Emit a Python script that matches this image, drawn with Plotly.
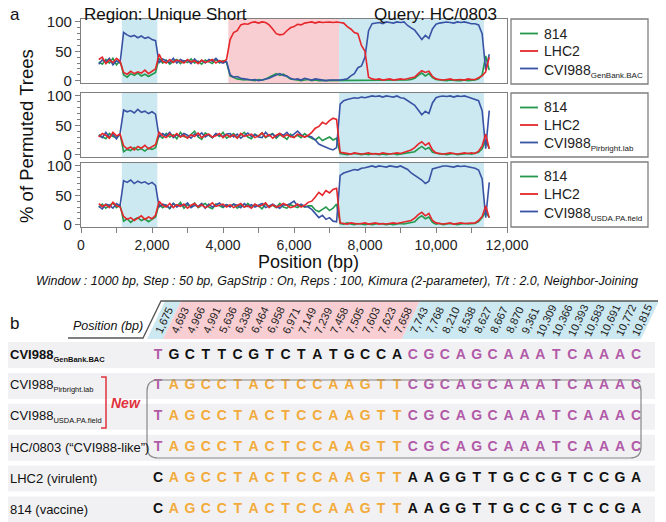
import plotly.graph_objects as go

# ---------------- panel a : bootscan, % of permuted trees (window midpoints, bp)
POS = list(range(500, 11501, 100))

# top panel: CVI988 GenBank.BAC as reference
G1 = [32, 28, 36, 30, 38, 27, 34,
      10, 6, 12, 9, 13, 8, 11, 7, 10, 14,
      38, 30, 35, 28, 33, 36, 29, 34, 31, 37, 30, 33, 28, 35, 32, 29, 36, 30, 34, 31,
      8, 5, 3, 2, 1, 2, 1, 0, 2, 1, 3, 6, 10, 12, 9, 11, 7, 3, 2, 1, 0, 1, 2, 0, 1, 0, 0, 1, 0, 0, 1,
      0, 0, 1, 0, 0, 0, 1, 0, 0, 0, 0, 0, 0, 0, 0, 1, 0, 0, 0, 1, 2,
      4, 9, 13, 8, 12, 5,
      2, 1, 0, 0, 1, 0, 0, 0, 1, 0, 0,
      1, 3, 10, 42,
      18]
R1 = [36, 40, 29, 35, 31, 38, 33,
      14, 11, 16, 12, 15, 13, 18, 12, 16, 20,
      45, 33, 30, 36, 31, 35, 33, 30, 36, 32, 34, 29, 35, 31, 33, 36, 30, 34, 32, 36,
      70, 82, 85, 95, 97, 96, 99, 100, 98, 100, 99, 95, 88, 80, 78, 79, 85, 90, 92, 96, 95, 98, 99, 100, 98, 100, 99, 100, 100, 99, 100,
      99, 98, 92, 88, 82, 80, 60, 50, 6, 3, 2, 3, 1, 2, 3, 1, 2, 3, 2, 3, 4,
      6, 12, 17, 14, 16, 7,
      3, 2, 1, 2, 3, 1, 2, 2, 1, 3, 2,
      2, 5, 8, 15,
      40]
B1 = [28, 35, 32, 38, 27, 34, 30,
      82, 78, 75, 77, 73, 76, 72, 74, 70, 68,
      30, 37, 34, 31, 38, 30, 36, 33, 35, 29, 37, 31, 34, 30, 36, 33, 38, 32, 30, 33,
      10, 6, 7, 4, 3, 2, 1, 2, 0, 1, 2, 4, 7, 10, 12, 9, 8, 4, 2, 3, 1, 4, 2, 1, 3, 2, 1, 0, 1, 1, 0,
      1, 2, 3, 8, 12, 22, 25, 40, 85, 97, 98, 99, 97, 100, 99, 98, 100, 99, 100, 94, 90,
      86, 78, 70, 77, 72, 88,
      96, 98, 99, 100, 99, 98, 100, 99, 100, 98, 97,
      97, 95, 80, 18,
      45]

# middle panel: CVI988 Pirbright.lab
G2 = [34, 30, 27, 36, 31, 29, 35,
      5, 9, 7, 12, 8, 10, 6, 11, 9, 12,
      33, 28, 36, 30, 34, 27, 38, 31, 29, 35, 40, 30, 26, 37, 33, 29, 35, 31, 38, 28,
      32, 36, 29, 34, 38, 30, 27, 35, 31, 37, 29, 33, 36, 28, 34, 31, 26, 35, 30, 33, 29, 36, 31,
      28, 25, 30, 24, 27, 30, 25, 28,
      2, 1, 0, 1, 2, 1, 0, 1, 0, 2, 1, 0, 1, 0, 1, 2, 0, 1, 1, 2, 3,
      5, 10, 14, 9, 12, 4,
      2, 1, 1, 0, 1, 2, 0, 1, 1, 2, 1,
      2, 4, 10, 25,
      10]
R2 = [30, 36, 33, 28, 38, 32, 35,
      15, 10, 13, 8, 14, 11, 16, 10, 13, 17,
      38, 32, 29, 35, 31, 36, 30, 33, 28, 34, 31, 37, 29, 33, 35, 30, 32, 36, 29, 34,
      30, 34, 28, 36, 31, 33, 35, 29, 32, 37, 30, 34, 28, 33, 36, 30, 34, 31, 29, 35, 32, 30, 33,
      38, 45, 48, 55, 52, 58, 62, 60,
      4, 3, 2, 1, 3, 2, 1, 2, 3, 1, 2, 1, 3, 2, 1, 2, 3, 2, 4, 5, 8,
      12, 18, 22, 16, 20, 8,
      3, 2, 1, 2, 3, 2, 1, 2, 3, 2, 3,
      2, 6, 15, 35,
      10]
B2 = [33, 29, 38, 30, 35, 27, 36,
      76, 73, 75, 71, 77, 72, 74, 70, 73, 69,
      30, 36, 32, 38, 29, 34, 31, 36, 33, 28, 35, 32, 37, 30, 34, 29, 36, 33, 31, 35,
      36, 30, 35, 28, 33, 37, 31, 34, 30, 29, 38, 32, 35, 30, 36, 33, 38, 31, 35, 40, 34, 30, 32,
      30, 25, 18, 15, 12, 10, 8, 12,
      86, 92, 94, 95, 97, 96, 98, 97, 99, 100, 99, 100, 98, 100, 99, 98, 100, 97, 96, 92, 88,
      84, 76, 68, 74, 70, 88,
      97, 99, 100, 99, 100, 98, 100, 99, 100, 98, 96,
      95, 92, 75, 10,
      75]

# bottom panel: CVI988 USDA.PA.field
G3 = [30, 35, 28, 33, 37, 29, 34,
      6, 10, 4, 9, 12, 7, 10, 5, 9, 13,
      35, 29, 33, 27, 36, 31, 38, 28, 34, 30, 37, 29, 33, 36, 30, 27, 35, 32, 29, 34,
      31, 35, 28, 33, 30, 36, 29, 34, 32, 27, 35, 31, 33, 29, 36, 30, 28, 34, 31, 29, 33, 30, 32,
      32, 25, 22, 26, 30, 24, 28, 35,
      2, 1, 3, 1, 0, 2, 1, 0, 1, 0, 1, 2, 1, 0, 1, 0, 1, 2, 1, 2, 3,
      5, 11, 15, 10, 13, 4,
      1, 2, 0, 1, 2, 1, 0, 1, 2, 1, 2,
      2, 5, 12, 22,
      12]
R3 = [36, 31, 34, 29, 38, 32, 30,
      14, 9, 12, 7, 11, 15, 9, 13, 10, 16,
      40, 33, 30, 36, 29, 34, 31, 35, 28, 33, 36, 30, 34, 29, 32, 37, 31, 33, 35, 30,
      34, 29, 33, 36, 30, 32, 28, 35, 31, 33, 37, 29, 34, 30, 32, 36, 33, 29, 31, 35, 30, 33, 38,
      40, 47, 55, 50, 58, 54, 60, 62,
      3, 2, 1, 3, 2, 1, 2, 3, 1, 2, 3, 1, 2, 1, 2, 3, 2, 3, 4, 5, 7,
      11, 17, 21, 15, 19, 7,
      3, 2, 1, 2, 3, 1, 2, 3, 2, 2, 3,
      3, 7, 14, 32,
      12]
B3 = [31, 27, 35, 33, 28, 36, 32,
      75, 72, 76, 70, 74, 71, 73, 69, 72, 67,
      30, 35, 33, 28, 36, 30, 34, 32, 37, 29, 33, 31, 36, 28, 35, 30, 33, 37, 31, 34,
      30, 35, 33, 29, 36, 31, 34, 30, 33, 36, 29, 32, 35, 31, 28, 34, 33, 36, 40, 32, 35, 31, 30,
      26, 18, 12, 16, 9, 12, 6, 5,
      84, 88, 90, 92, 94, 93, 96, 97, 99, 100, 98, 100, 99, 98, 100, 99, 98, 100, 97, 94, 88,
      84, 80, 76, 70, 74, 95,
      97, 99, 100, 100, 99, 98, 100, 99, 100, 99, 97,
      96, 93, 78, 12,
      72]

PANELS = [(G1, R1, B1), (G2, R2, B2), (G3, R3, B3)]
SERIES = ["814", "LHC2", "CVI988"]
REF_SUB = ["GenBank.BAC", "Pirbright.lab", "USDA.PA.field"]

# shaded regions (bp) per panel
REGIONS = [
    [("blue", 1150, 2150), ("pink", 4150, 7270), ("blue", 7270, 11350)],
    [("blue", 1150, 2150), ("blue", 7270, 11350)],
    [("blue", 1150, 2150), ("blue", 7270, 11350)],
]

# ---------------- panel b : informative sites
SITE_POS = ["1,675", "4,693", "4,966", "4,991", "5,636", "6,338", "6,464", "6,958",
            "6,971", "7,149", "7,239", "7,458", "7,505", "7,603", "7,623", "7,658",
            "7,743", "7,768", "8,210", "8,538", "8,627", "8,667", "8,870", "9,361",
            "10,309", "10,366", "10,393", "10,583", "10,691", "10,772", "10,815"]
SITE_ZONE = "B" + "P" * 15 + "B" * 15

SUB = '<sub><span style="font-size:{}px">{}</span></sub>'
ROW_LABELS = ["<b>CVI988" + SUB.format(7.5, "GenBank.BAC") + "</b>",
              "CVI988" + SUB.format(7.5, "Pirbright.lab"),
              "CVI988" + SUB.format(7.5, "USDA.PA.field"),
              "HC/0803 (\u201cCVI988-like\u201d)",
              "LHC2 (virulent)",
              "814 (vaccine)"]
SEQS = ["TGCTTCGTCTATGCCACGCAGCAAATCAAAC",
        "TAGCCTACTCCAAGTTCGCAGCAAATCAAAC",
        "TAGCCTACTCCAAGTTCGCAGCAAATCAAAC",
        "TAGCCTACTCCAAGTTCGCAGCAAATCAAAC",
        "CAGCCTACTCCAAGTTAAGGTTGCCGTCCGA",
        "CAGCCTACTCCAAGTTAAGGTTGCCGTCCGA"]
# letter origin: P = CVI988-like (purple), O = LHC2/814-like (orange), K = own (black)
ORIGIN = ["P" + "K" * 15 + "P" * 15,
          "P" + "O" * 15 + "P" * 15,
          "P" + "O" * 15 + "P" * 15,
          "P" + "O" * 15 + "P" * 15,
          "K" + "O" * 15 + "K" * 15,
          "K" + "O" * 15 + "K" * 15]

# ---------------- styling / layout helpers
# the page body puts the figure 8 px in from the window corner
OFF = 8
W, H = 666, 522
FW, FH = W - OFF, H - OFF
FONT = "Liberation Sans"
GREEN, RED, BLUE = "#23994c", "#e5262b", "#3953a4"
SHADE = {"blue": "#cce8f1", "pink": "#f9ced2"}
LETTER = {"P": "#b15aa8", "O": "#f2ab3b", "K": "#111111"}
FRAME = "#7f7f7f"


def fx(x):
    return (x - OFF) / FW


def fy(y):
    return 1 - (y - OFF) / FH


# panel b grid (window px): column 0 centre, column pitch, row 0 centre, row pitch
C0, CW, R0, RH = 158, 15.933, 355, 30.9

fig = go.Figure()

for k, trio in enumerate(PANELS):
    xa = "x" if k == 0 else f"x{k + 1}"
    ya = "y" if k == 0 else f"y{k + 1}"
    for vals, col in [(trio[0], GREEN), (trio[2], BLUE), (trio[1], RED)]:
        fig.add_trace(go.Scatter(x=POS, y=vals, mode="lines",
                                 line=dict(color=col, width=1.6),
                                 xaxis=xa, yaxis=ya, showlegend=False,
                                 hoverinfo="skip"))

# sequence letters
xs, ys, txt, cols = [], [], [], []
for r, (seq, org) in enumerate(zip(SEQS, ORIGIN)):
    for c, (ch, o) in enumerate(zip(seq, org)):
        xs.append(c)
        ys.append(r)
        txt.append(ch)
        cols.append(LETTER[o])
fig.add_trace(go.Scatter(x=xs, y=ys, mode="text", text=txt,
                         textfont=dict(family=FONT, size=14, color=cols, weight="bold"),
                         xaxis="x4", yaxis="y4", showlegend=False,
                         hoverinfo="skip", cliponaxis=False))

shapes = []
# shaded regions in panel a
for k, regs in enumerate(REGIONS):
    xa = "x" if k == 0 else f"x{k + 1}"
    ya = "y" if k == 0 else f"y{k + 1}"
    for name, a, b in regs:
        shapes.append(dict(type="rect", xref=xa, yref=f"{ya} domain",
                           x0=a, x1=b, y0=0, y1=1, fillcolor=SHADE[name],
                           line=dict(width=0), layer="below"))

# legend boxes
LEG_TOP = [19, 93, 162]
LEG_H = [65, 64, 65]
annotations = []
for k, top in enumerate(LEG_TOP):
    shapes.append(dict(type="rect", xref="paper", yref="paper",
                       x0=fx(511), x1=fx(648), y0=fy(top + LEG_H[k]), y1=fy(top),
                       line=dict(color=FRAME, width=1.3)))
    for j, (name, col) in enumerate(zip(SERIES, [GREEN, RED, BLUE])):
        yy = top + 14.5 + 17.5 * j
        shapes.append(dict(type="line", xref="paper", yref="paper",
                           x0=fx(520), x1=fx(538), y0=fy(yy), y1=fy(yy),
                           line=dict(color=col, width=1.8)))
        label = name if j < 2 else name + SUB.format(8, REF_SUB[k])
        annotations.append(dict(x=fx(542), y=fy(yy + (2 if j == 2 else 0)),
                                xref="paper", yref="paper", xanchor="left",
                                yanchor="middle", text=label, showarrow=False,
                                font=dict(family=FONT, size=14, color="#222")))

# panel b: row bands
for r in range(len(SEQS)):
    shapes.append(dict(type="rect", xref="x4", yref="y4",
                       x0=(OFF - C0) / CW, x1=(655 - C0) / CW,
                       y0=r - 0.42, y1=r + 0.42, fillcolor="#f1f1f3",
                       line=dict(width=0), layer="below"))

# panel b: slanted header cells
YB, YT = (339 - R0) / RH, (301 - R0) / RH
SL = 18 / CW
runs = []
for i, z in enumerate(SITE_ZONE):
    if runs and runs[-1][0] == z:
        runs[-1][2] = i
    else:
        runs.append([z, i, i])
for z, a, b in runs:
    bl, br = a - 0.69, b + 0.31
    shapes.append(dict(type="path", xref="x4", yref="y4",
                       path=f"M {bl},{YB} L {br},{YB} L {br + SL},{YT} L {bl + SL},{YT} Z",
                       fillcolor=SHADE["blue" if z == "B" else "pink"],
                       line=dict(width=0), layer="below"))
for i, lab in enumerate(SITE_POS):
    annotations.append(dict(x=i + 0.375, y=(YB + YT) / 2, xref="x4", yref="y4",
                            xanchor="center", yanchor="middle",
                            text=lab, textangle=-65, showarrow=False,
                            font=dict(family=FONT, size=11, color="#222")))

# header outline: underline + slash + top rule
shapes.append(dict(type="path", xref="paper", yref="paper",
                   path=(f"M {fx(68)},{fy(338)} L {fx(143)},{fy(338)} "
                         f"L {fx(161)},{fy(301)} L {fx(666)},{fy(301)}"),
                   line=dict(color="#555", width=1.3)))


def rrect(x0, y0, x1, y1, r):
    return (f"M {fx(x0 + r)},{fy(y0)} L {fx(x1 - r)},{fy(y0)} "
            f"Q {fx(x1)},{fy(y0)} {fx(x1)},{fy(y0 + r)} "
            f"L {fx(x1)},{fy(y1 - r)} Q {fx(x1)},{fy(y1)} {fx(x1 - r)},{fy(y1)} "
            f"L {fx(x0 + r)},{fy(y1)} Q {fx(x0)},{fy(y1)} {fx(x0)},{fy(y1 - r)} "
            f"L {fx(x0)},{fy(y0 + r)} Q {fx(x0)},{fy(y0)} {fx(x0 + r)},{fy(y0)} Z")


shapes.append(dict(type="path", xref="paper", yref="paper",
                   path=rrect(147, 380, 641, 458, 11),
                   line=dict(color="#888", width=1.2)))

# red "New" bracket
shapes.append(dict(type="path", xref="paper", yref="paper",
                   path=(f"M {fx(101)},{fy(377)} L {fx(106)},{fy(377)} "
                         f"L {fx(106)},{fy(428)} L {fx(101)},{fy(428)}"),
                   line=dict(color="#e0323c", width=1.5)))

# row labels
for r, lab in enumerate(ROW_LABELS):
    annotations.append(dict(x=fx(OFF), y=r, xref="paper", yref="y4",
                            xanchor="left", yanchor="middle", text=lab,
                            showarrow=False, font=dict(family=FONT, size=13, color="#111")))


def txt_ann(x, y, text, size, **kw):
    d = dict(x=fx(x), y=fy(y), xref="paper", yref="paper", text=text,
             xanchor="center", yanchor="middle", showarrow=False,
             font=dict(family=FONT, size=size, color=kw.pop("color", "#111")))
    d.update(kw)
    return d


annotations += [
    txt_ann(15, 15, "a", 17),
    txt_ann(82, 15, "Region: Unique Short", 17, xanchor="left"),
    txt_ann(372, 15, "Query: HC/0803", 17, xanchor="left"),
    txt_ann(26, 136, "% of Permuted Trees", 18.5, textangle=-90),
    txt_ann(308, 262, "Position (bp)", 18),
    txt_ann(337, 281, "<i>Window : 1000 bp, Step : 50 bp, GapStrip : On, Reps : 100, "
                      "Kimura (2-parameter), T/t : 2.0, Neighbor-Joining</i>", 12.5),
    txt_ann(14, 323, "b", 17),
    txt_ann(108, 326, "<i>Position (bp)</i>", 12.5),
    txt_ann(126, 403, "<b><i>New</i></b>", 14, color="#e0323c"),
]

xcommon = dict(range=[0, 12000], domain=[fx(81), fx(507)], showline=True,
               mirror=True, linecolor=FRAME, linewidth=1.3, showgrid=False,
               zeroline=False, automargin=False)
ycommon = dict(range=[-4, 105], tickvals=[0, 50, 100], ticks="outside",
               ticklen=5, tickcolor=FRAME, showline=True, mirror=True,
               linecolor=FRAME, linewidth=1.3, showgrid=False, zeroline=False,
               automargin=False,
               minor=dict(dtick=10, ticks="outside", ticklen=3, tickcolor=FRAME),
               tickfont=dict(family=FONT, size=15, color="#222"))

fig.update_layout(
    width=FW, height=FH,
    margin=dict(l=0, r=0, t=0, b=0, pad=0, autoexpand=False),
    paper_bgcolor="white", plot_bgcolor="rgba(0,0,0,0)",
    showlegend=False,
    xaxis=dict(xcommon, anchor="y", showticklabels=False, ticks=""),
    xaxis2=dict(xcommon, anchor="y2", showticklabels=False, ticks=""),
    xaxis3=dict(xcommon, anchor="y3", ticks="outside", ticklen=5, tickcolor=FRAME,
                dtick=2000, tickformat=",d",
                minor=dict(dtick=1000, ticks="outside", ticklen=5, tickcolor=FRAME),
                tickfont=dict(family=FONT, size=14, color="#222")),
    yaxis=dict(ycommon, anchor="x", domain=[fy(83), fy(19)]),
    yaxis2=dict(ycommon, anchor="x2", domain=[fy(157), fy(93)]),
    yaxis3=dict(ycommon, anchor="x3", domain=[fy(227), fy(163)]),
    xaxis4=dict(domain=[0, 1], range=[(OFF - C0) / CW, (W - C0) / CW],
                visible=False, anchor="y4", automargin=False),
    yaxis4=dict(domain=[0, fy(295)], range=[(H - R0) / RH, (295 - R0) / RH],
                visible=False, anchor="x4", automargin=False),
    shapes=shapes,
    annotations=annotations,
    font=dict(family=FONT),
)

fig.write_html("out.html")
